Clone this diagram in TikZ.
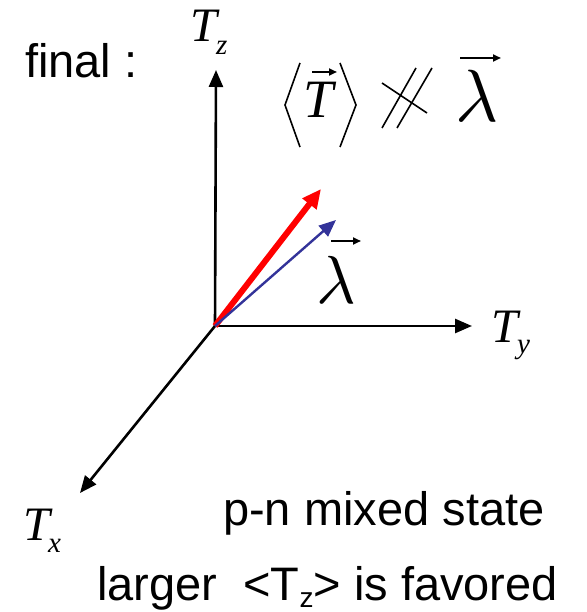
\documentclass[tikz,border=0pt]{standalone}
\usepackage{fontspec}
\setmainfont{Liberation Serif}
\setsansfont{Liberation Sans}
\usetikzlibrary{arrows.meta}
\definecolor{vblue}{RGB}{51,51,153}
\newcommand{\fsz}[1]{\fontsize{#1}{#1}\selectfont}
\begin{document}
\begin{tikzpicture}[x=1pt,y=-1pt,
  axis/.style={line width=2.6pt,-{Triangle[length=17pt,width=14pt]}},
  vecbar/.style={line width=2pt,-{Triangle[length=8pt,width=7pt]}},
  lbl/.style={inner sep=0pt,anchor=base west},
  sym/.style={line width=1.6pt}]
\useasboundingbox (0,0) rectangle (586,612);
% axes
\coordinate (O) at (215,326);
\coordinate (Z) at (216,70);
\coordinate (Y) at (472,326);
\coordinate (X) at (80,493);
\draw[axis] (O) -- (Z);
\draw[axis] (O) -- (Y);
\draw[axis] (O) -- (X);
% vectors
\coordinate (R) at (321,189);
\coordinate (B) at (336,220);
\draw[red,line width=6pt,-{Triangle[length=19pt,width=17pt]}] (O) -- (R);
\draw[vblue,line width=2.4pt,-{Triangle[length=17pt,width=14pt]}] (O) -- (B);
% axis labels
\node[lbl,font=\itshape\fsz{48}] (tz) at (190,42) {T};
\node[lbl,font=\itshape\fsz{29}] (tzs) at (216,55) {z};
\node[lbl,font=\itshape\fsz{48}] (ty) at (491,342) {T};
\node[lbl,font=\itshape\fsz{29}] (tys) at (517,353) {y};
\node[lbl,font=\itshape\fsz{48}] (tx) at (23,540) {T};
\node[lbl,font=\itshape\fsz{29}] (txs) at (48,552) {x};
% lambda label
\node[lbl] (lam) at (316,303) {\scalebox{6.8}{$\lambda$}};
\coordinate (la1) at (331,241);
\coordinate (la2) at (361,241);
\draw[vecbar] (la1) -- (la2);
% formula
\coordinate (a1) at (300,63); \coordinate (a2) at (285,105); \coordinate (a3) at (300,147);
\draw[sym] (a1) -- (a2) -- (a3);
\coordinate (b1) at (340,63); \coordinate (b2) at (356,105); \coordinate (b3) at (340,147);
\draw[sym] (b1) -- (b2) -- (b3);
\node[lbl,font=\itshape\fsz{54}] (fT) at (303,118) {T};
\coordinate (ta1) at (312,72);
\coordinate (ta2) at (337,72);
\draw[vecbar] (ta1) -- (ta2);
\coordinate (s1a) at (382,128); \coordinate (s1b) at (416,68);
\coordinate (s2a) at (397,128); \coordinate (s2b) at (432,68);
\coordinate (c1) at (382,83); \coordinate (c2) at (427,113);
\draw[sym] (s1a) -- (s1b);
\draw[sym] (s2a) -- (s2b);
\draw[sym] (c1) -- (c2);
\node[lbl] (fL) at (455,122) {\scalebox{7.4}{$\lambda$}};
\coordinate (fa1) at (460,58);
\coordinate (fa2) at (501,58);
\draw[vecbar] (fa1) -- (fa2);
% texts
\node[lbl,font=\sffamily\fsz{47}] (final) at (25,78) {final :};
\node[lbl,font=\sffamily\fsz{47}] (pn) at (223,525) {p-n mixed state};
\node[lbl,font=\sffamily\fsz{47}] (larger) at (97,600) {larger\ \ <T\raisebox{-0.15em}{\fsz{28}z}> is favored};
\end{tikzpicture}
\end{document}
